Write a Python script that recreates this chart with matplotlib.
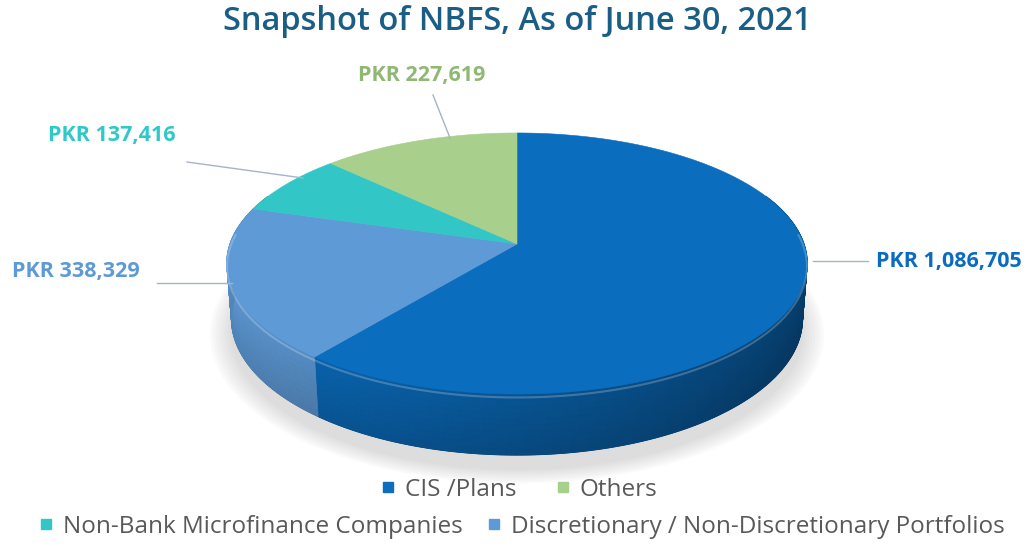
import numpy as np
import matplotlib
matplotlib.use("Agg")
import matplotlib.pyplot as plt
from matplotlib.collections import PolyCollection
from matplotlib.lines import Line2D
from matplotlib.colors import to_rgb

# data (PKR million)
categories = ["CIS /Plans", "Discretionary / Non-Discretionary Portfolios",
              "Non-Bank Microfinance Companies", "Others"]
values = [1086705, 338329, 137416, 227619]
value_labels = ["PKR 1,086,705", "PKR 338,329", "PKR 137,416", "PKR 227,619"]
colors = ["#0B6DBE", "#5E9AD6", "#33C6C6", "#A8CF8C"]
label_colors = ["#0A6CC0", "#5E9AD6", "#2FC9C9", "#8FB874"]

W, H = 1030, 546
fig = plt.figure(figsize=(W / 100, H / 100), dpi=100)
ax = fig.add_axes([0, 0, 1, 1])
ax.set_xlim(0, W)
ax.set_ylim(H, 0)
ax.axis("off")

# perspective projection of a flat cylinder (pie)
cx, cy, R = 517, 244, 287
elev = np.radians(26.4)
se, ce = np.sin(elev), np.cos(elev)
D = 6.0
h = 0.215


def proj(x, y, z):
    depth = y * ce - z * se
    f = D / (D + depth)
    return cx + R * x * f, cy - R * (y * se + z * ce) * f


# angles: start at 12 o'clock, clockwise
frac = np.array(values) / np.sum(values)
edges = np.pi / 2 - 2 * np.pi * np.concatenate([[0], np.cumsum(frac)])

# soft shadow under the pie
tt = np.linspace(0, 2 * np.pi, 300)
for s in np.linspace(1.07, 1.0, 8):
    px, py = proj(s * np.cos(tt), s * np.sin(tt) - 0.03, -h - 0.02)
    ax.fill(px, py + 4, color="#888888", alpha=0.035, lw=0, zorder=1)

# side wall: solid underlay per slice, then shaded strips on top
polys, fcs = [], []
nz = 10
for i in range(len(values)):
    a0, a1 = edges[i], edges[i + 1]
    ts = np.linspace(a0, a1, max(int(abs(a1 - a0) / np.radians(0.5)), 4))
    base = np.array(to_rgb(colors[i]))
    vis = ts[np.sin(ts) < 0.4]
    if len(vis) > 1:
        tx, ty = proj(np.cos(vis), np.sin(vis), 0)
        bx, by = proj(np.cos(vis), np.sin(vis), -h)
        ax.fill(np.r_[tx, bx[::-1]], np.r_[ty, by[::-1]],
                color=base * 0.62, lw=0.8, zorder=2)
    for j in range(len(ts) - 1):
        t0, t1 = ts[j], ts[j + 1]
        tm = 0.5 * (t0 + t1)
        if np.sin(tm) > 0.35:
            continue
        shade = 0.70 - 0.19 * np.cos(tm)
        for k in range(nz):
            z0, z1 = -h * k / nz, -h * (k + 1) / nz
            p = [proj(np.cos(t0), np.sin(t0), z0), proj(np.cos(t1), np.sin(t1), z0),
                 proj(np.cos(t1), np.sin(t1), z1), proj(np.cos(t0), np.sin(t0), z1)]
            polys.append(p)
            m = shade * (1.1 - 0.015 * k)
            fcs.append(np.clip(base * m, 0, 1))
wall = PolyCollection(polys, facecolors=fcs, edgecolors=fcs, linewidths=0.5, zorder=2.5)
ax.add_collection(wall)

# top faces
for i in range(len(values)):
    ts = np.linspace(edges[i], edges[i + 1], 200)
    px, py = proj(np.cos(ts), np.sin(ts), 0)
    ox, oy = proj(0, 0, 0)
    ax.fill(np.r_[ox, px], np.r_[oy, py], color=colors[i], lw=0.4, ec=colors[i], zorder=3)

# light rim on the front edge
ts = np.linspace(np.pi * 0.97, np.pi * 2.03, 300)
px, py = proj(np.cos(ts), np.sin(ts), -0.012)
ax.plot(px, py, color="white", alpha=0.22, lw=1.5, zorder=4)

# title
ax.text(517, 22, "Snapshot of NBFS, As of June 30, 2021", ha="center", va="center",
        fontsize=23.5, color="#1A5E86", family="Open Sans", fontweight="semibold")

# data labels with leader lines
lead = "#A7B3C6"
ax.plot([813, 868], [261, 261], color=lead, lw=1, zorder=5)
ax.plot([157, 232], [283, 283], color=lead, lw=1, zorder=5)
ax.plot([187, 303], [162, 178], color=lead, lw=1, zorder=5)
ax.plot([433, 450], [95, 138], color=lead, lw=1, zorder=5)
label_pos = [(876, 261, "left"), (140, 272, "right"), (175, 135, "right"), (485, 75, "right")]
for (x, y, ha), txt, c in zip(label_pos, value_labels, label_colors):
    ax.text(x, y, txt, ha=ha, va="center", fontsize=15.5, fontweight="bold",
            color=c, family="Open Sans")


# legend in two rows
def handle(c):
    return Line2D([], [], marker="s", ls="none", markersize=7, color=c)


leg1 = fig.legend([handle(colors[0]), handle(colors[3])], [categories[0], categories[3]],
                  loc="center", bbox_to_anchor=(519 / W, 1 - 490 / H), ncol=2, frameon=False,
                  handlelength=0.6, handletextpad=0.4, columnspacing=1.6,
                  prop={"family": "Open Sans", "size": 17.5})
leg2 = fig.legend([handle(colors[2]), handle(colors[1])], [categories[2], categories[1]],
                  loc="center", bbox_to_anchor=(522 / W, 1 - 527 / H), ncol=2, frameon=False,
                  handlelength=0.6, handletextpad=0.4, columnspacing=1.0,
                  prop={"family": "Open Sans", "size": 17.5})
for leg in (leg1, leg2):
    for t in leg.get_texts():
        t.set_color("#595959")

fig.savefig("out.png", dpi=100)
